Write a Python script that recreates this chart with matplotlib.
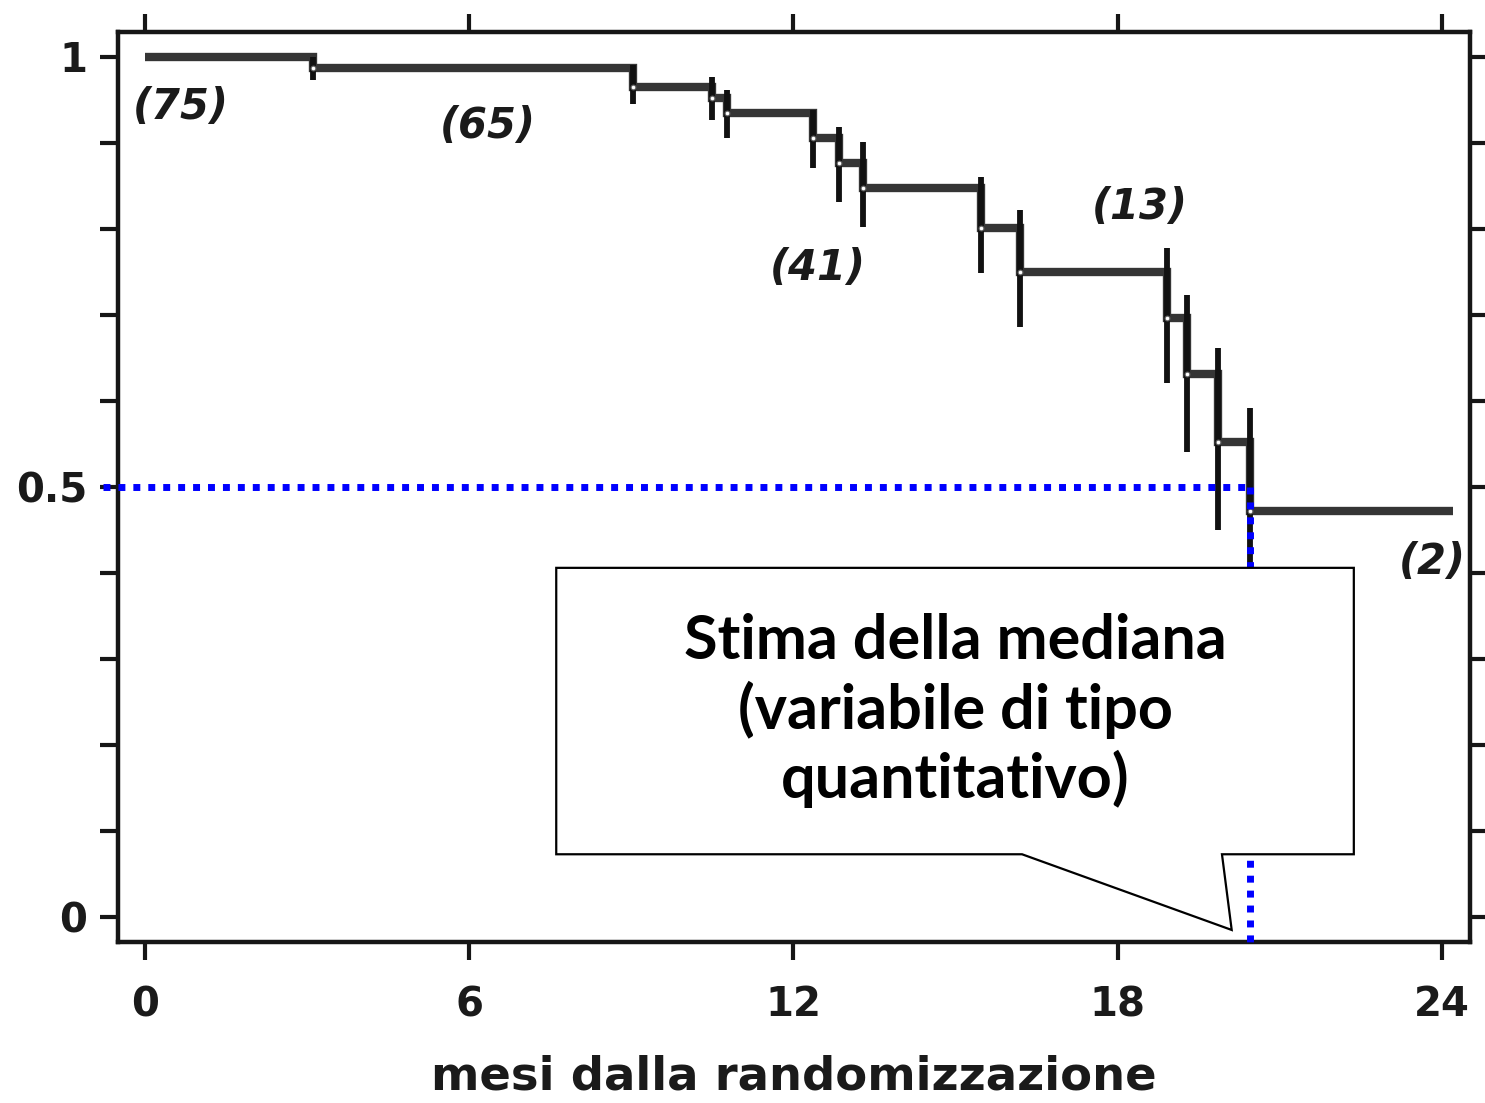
import matplotlib
matplotlib.use("Agg")
import matplotlib.pyplot as plt
from matplotlib.patches import Polygon
import numpy as np

# Kaplan-Meier estimate: event times (months), survival after each event, CI bounds
event_times = [3.11, 9.03, 10.49, 10.77, 12.36, 12.84, 13.29, 15.47, 16.19, 18.91, 19.28, 19.86, 20.45]
survival = [0.987, 0.965, 0.952, 0.935, 0.906, 0.877, 0.848, 0.801, 0.750, 0.697, 0.631, 0.552, 0.472]
ci_low = [0.973, 0.945, 0.927, 0.906, 0.871, 0.831, 0.802, 0.749, 0.686, 0.621, 0.541, 0.450, 0.350]
ci_high = [1.000, 0.991, 0.977, 0.962, 0.938, 0.919, 0.901, 0.860, 0.822, 0.778, 0.723, 0.662, 0.592]
follow_up_end = 24.2

# numbers at risk
risk_times = [0.67, 6.35, 12.45, 18.41, 23.82]
risk_counts = [75, 65, 41, 13, 2]
risk_label_y = [0.942, 0.920, 0.755, 0.826, 0.413]

# median survival read-off
median_level = 0.5
median_time = 20.45

x_ticks = [0, 6, 12, 18, 24]
y_ticks = [round(v, 1) for v in np.arange(0, 1.01, 0.1)]
y_tick_labels = {0.0: "0", 0.5: "0.5", 1.0: "1"}

callout_lines = ["Stima della mediana", "(variabile di tipo", "quantitativo)"]
x_label = "mesi dalla randomizzazione"

W, H = 1485, 1103
fig = plt.figure(figsize=(W / 100, H / 100), dpi=100)
fig.patch.set_facecolor("white")
ax = fig.add_axes([118 / W, 1 - 942 / H, (1470 - 118) / W, (942 - 32) / H])
ax.set_xlim(-0.5, 24.52)
ax.set_ylim(-0.029, 1.029)

ink = "#161616"
for side in ["left", "right", "top", "bottom"]:
    ax.spines[side].set_linewidth(3.2)
    ax.spines[side].set_color(ink)

ax.set_xticks(x_ticks)
ax.set_xticklabels([str(v) for v in x_ticks])
ax.set_yticks(y_ticks)
ax.set_yticklabels([y_tick_labels.get(v, "") for v in y_ticks])
ax.tick_params(axis="both", direction="out", length=13, width=3, color=ink,
               labelsize=29, labelcolor="#1a1a1a")
ax.tick_params(axis="x", top=True, pad=18)
ax.tick_params(axis="y", right=True, pad=9)
for lab in ax.get_xticklabels() + ax.get_yticklabels():
    lab.set_fontfamily("DejaVu Sans")
    lab.set_fontweight("bold")

# axis title, kept inside the canvas
ax_box = ax.get_position()
fig.text((ax_box.x0 + ax_box.x1) / 2, 3 / H, x_label, ha="center", va="bottom",
         fontsize=33.5, fontweight="bold", family="DejaVu Sans", color="#1a1a1a")

# survival step curve
step_x = [0] + event_times + [follow_up_end]
step_y = [1.0] + survival + [survival[-1]]
ax.step(step_x, step_y, where="post", color="#353535", lw=6,
        solid_capstyle="butt", solid_joinstyle="miter", zorder=3)

# confidence bars at each event
ax.vlines(event_times, ci_low, ci_high, colors="#111111", lw=4.2, zorder=4)
ax.plot(event_times, survival, "o", ms=3.4, mfc="white", mec="#666666",
        mew=0.8, zorder=5)

# numbers at risk
for t, n, yv in zip(risk_times, risk_counts, risk_label_y):
    ax.text(t, yv, f"({n})", ha="center", va="center", fontsize=30,
            fontweight="bold", fontstyle="italic", family="DejaVu Sans",
            color="#1a1a1a", clip_on=False, zorder=6)

# median read-off lines
blue = "#0000ff"
ax.plot([-0.78, median_time], [median_level, median_level], color=blue, lw=5,
        linestyle=(0, (1, 1.15)), dash_capstyle="butt", clip_on=False, zorder=7)
ax.plot([median_time, median_time], [median_level, -0.029], color=blue, lw=5,
        linestyle=(0, (1, 1.15)), dash_capstyle="butt", clip_on=False, zorder=7)

# callout box with pointer toward the median
bx0, bx1 = 7.61, 22.37
by0, by1 = 0.073, 0.406
px0, px1 = 16.23, 19.93
tip = (median_time - 0.34, -0.015)
callout = Polygon([(bx0, by1), (bx1, by1), (bx1, by0), (px1, by0), tip,
                   (px0, by0), (bx0, by0)], closed=True, facecolor="white",
                  edgecolor="black", lw=1.6, zorder=8)
ax.add_patch(callout)
cx = (bx0 + bx1) / 2
for i, line in enumerate(callout_lines):
    ax.text(cx, 0.321 - i * 0.080, line, ha="center", va="center",
            fontsize=44, fontweight="bold", family="Lato", color="black",
            zorder=9)

fig.savefig("out.png", dpi=100, facecolor="white")
